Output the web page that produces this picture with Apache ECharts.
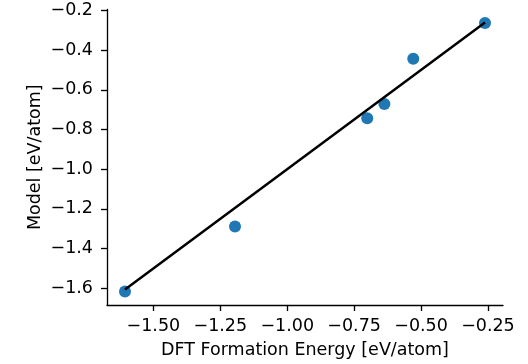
<!DOCTYPE html>
<html>
<head>
<meta charset="utf-8">
<script src="https://cdn.jsdelivr.net/npm/echarts@6/dist/echarts.min.js"></script>
<style>
  html, body { margin: 0; padding: 0; background: #ffffff; }
  #chart { width: 528px; height: 364px; }
</style>
</head>
<body>
<div id="chart"></div>
<script>
// DFT formation energies vs. model predictions (eV/atom)
const dftEnergy   = [-1.606, -1.195, -0.701, -0.637, -0.529, -0.261];
const modelEnergy = [-1.617, -1.289, -0.743, -0.672, -0.444, -0.263];

// Tick positions shown on each axis
const xTicks = [-1.50, -1.25, -1.00, -0.75, -0.50, -0.25];
const yTicks = [-1.6, -1.4, -1.2, -1.0, -0.8, -0.6, -0.4, -0.2];

const FONT = 'DejaVu Sans';
const FS = 17.5;

// Axis limits padded by 5% of the data span
function padded(vals) {
  const lo = Math.min(...vals), hi = Math.max(...vals);
  const m = (hi - lo) * 0.05;
  return [lo - m, hi + m];
}
const [xMin, xMax] = padded(dftEnergy);
const [yMin, yMax] = padded(modelEnergy);

// Parity line y = x spanning the DFT range
const pMin = Math.min(...dftEnergy), pMax = Math.max(...dftEnergy);
const parity = [[pMin, pMin], [pMax, pMax]];

const fmt = d => v => (v < 0 ? '\u2212' : '') + Math.abs(v).toFixed(d);

const chart = echarts.init(document.getElementById('chart'), null, { renderer: 'canvas' });
chart.setOption({
  animation: false,
  backgroundColor: '#ffffff',
  grid: { left: 107, right: 25, top: 9.5, bottom: 58 },
  xAxis: {
    type: 'value',
    min: xMin, max: xMax,
    name: 'DFT Formation Energy [eV/atom]',
    nameLocation: 'middle',
    nameGap: 36,
    nameMoveOverlap: false,
    nameTextStyle: { fontFamily: FONT, fontSize: FS, color: '#000' },
    axisLine: { onZero: false, lineStyle: { color: '#000', width: 1.33 } },
    axisTick: { show: true, length: 6, inside: false, customValues: xTicks,
                lineStyle: { color: '#000', width: 1.33 } },
    axisLabel: { customValues: xTicks, formatter: fmt(2), margin: 12,
                 fontFamily: FONT, fontSize: FS, color: '#000' },
    splitLine: { show: false }
  },
  yAxis: {
    type: 'value',
    min: yMin, max: yMax,
    name: 'Model [eV/atom]',
    nameLocation: 'middle',
    nameGap: 63,
    nameMoveOverlap: false,
    nameRotate: 90,
    nameTextStyle: { fontFamily: FONT, fontSize: FS, color: '#000' },
    axisLine: { onZero: false, lineStyle: { color: '#000', width: 1.33 } },
    axisTick: { show: true, length: 6, inside: false, customValues: yTicks,
                lineStyle: { color: '#000', width: 1.33 } },
    axisLabel: { customValues: yTicks, formatter: fmt(1), margin: 14,
                 fontFamily: FONT, fontSize: FS, color: '#000' },
    splitLine: { show: false }
  },
  series: [
    {
      type: 'scatter',
      data: dftEnergy.map((x, i) => [x, modelEnergy[i]]),
      symbol: 'circle',
      symbolSize: 12,
      itemStyle: { color: '#1f77b4', opacity: 1 },
      z: 2
    },
    {
      type: 'line',
      data: parity,
      showSymbol: false,
      symbol: 'none',
      lineStyle: { color: '#000', width: 2.5 },
      z: 3
    }
  ]
});
</script>
</body>
</html>
